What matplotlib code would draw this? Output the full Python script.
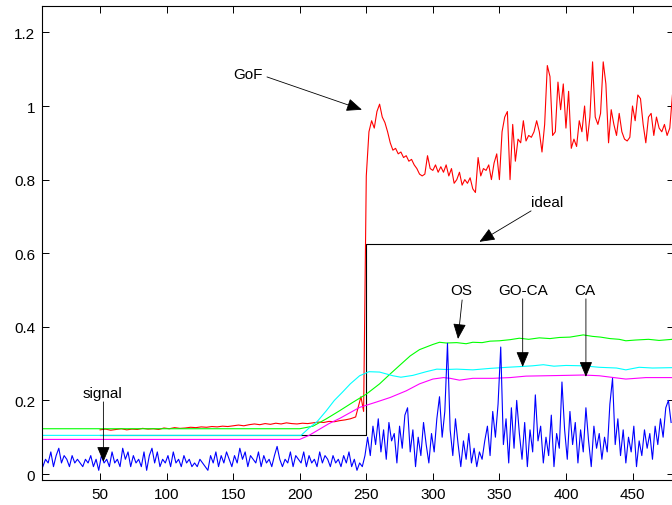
import numpy as np
import matplotlib
matplotlib.use('Agg')
import matplotlib.pyplot as plt

plt.rcParams['font.family'] = ['Liberation Sans', 'DejaVu Sans']
plt.rcParams['font.size'] = 11

# %% data

# raw detector signal, every 2nd sample (7..479)
signal = [
    0.02, 0.04, 0.03, 0.06, 0.02, 0.05, 0.07, 0.03, 0.05, 0.04,
    0.02, 0.05, 0.03, 0.04, 0.03, 0.02, 0.04, 0.03, 0.05, 0.02,
    0.04, 0.01, 0.05, 0.03, 0.04, 0.02, 0.06, 0.03, 0.04, 0.02,
    0.07, 0.04, 0.06, 0.02, 0.05, 0.03, 0.04, 0.02, 0.06, 0.01,
    0.05, 0.07, 0.03, 0.06, 0.02, 0.04, 0.03, 0.05, 0.02, 0.06,
    0.03, 0.04, 0.02, 0.05, 0.03, 0.04, 0.02, 0.03, 0.02, 0.04,
    0.03, 0.02, 0.01, 0.05, 0.03, 0.06, 0.02, 0.05, 0.03, 0.06,
    0.04, 0.02, 0.05, 0.03, 0.07, 0.04, 0.06, 0.02, 0.05, 0.04,
    0.03, 0.06, 0.02, 0.05, 0.03, 0.04, 0.02, 0.05, 0.075, 0.04,
    0.02, 0.04, 0.03, 0.06, 0.02, 0.05, 0.04, 0.03, 0.06, 0.02,
    0.05, 0.03, 0.04, 0.02, 0.06, 0.03, 0.05, 0.04, 0.02, 0.05,
    0.03, 0.04, 0.02, 0.05, 0.03, 0.06, 0.02, 0.04, 0.01, 0.03,
    0.02, 0.05,
    # target enters at 250
    0.10, 0.05, 0.13, 0.08, 0.15, 0.06, 0.12, 0.04, 0.14, 0.09,
    0.11, 0.03, 0.13, 0.07, 0.16, 0.18, 0.06, 0.12, 0.02, 0.10,
    0.05, 0.14, 0.08, 0.03, 0.11, 0.06, 0.15, 0.21, 0.10, 0.17,
    0.355, 0.12, 0.05, 0.15, 0.08, 0.02, 0.09, 0.04, 0.11, 0.03,
    0.07, 0.02, 0.06, 0.04, 0.09, 0.13, 0.05, 0.17, 0.10, 0.19,
    0.345, 0.08, 0.15, 0.03, 0.18, 0.07, 0.20, 0.11, 0.04, 0.14,
    0.02, 0.12, 0.06, 0.215, 0.09, 0.13, 0.03, 0.10, 0.05, 0.16,
    0.02, 0.11, 0.07, 0.25, 0.12, 0.04, 0.17, 0.08, 0.14, 0.03,
    0.12, 0.06, 0.18, 0.09, 0.02, 0.13, 0.07, 0.11, 0.04, 0.10,
    0.06, 0.19, 0.26, 0.08, 0.15, 0.05, 0.12, 0.03, 0.10, 0.06,
    0.13, 0.02, 0.09, 0.05, 0.12, 0.07, 0.11, 0.04, 0.13, 0.08,
    0.15, 0.10, 0.18, 0.20, 0.14,
]
signal_x = np.arange(7, 480, 2)

# goodness of fit: every 4th sample up to 246, then every 2nd
gof = [
    0.120, 0.122, 0.119, 0.121, 0.123, 0.120, 0.122, 0.121, 0.124, 0.122,
    0.123, 0.121, 0.125, 0.123, 0.126, 0.124, 0.125, 0.127, 0.126, 0.128,
    0.127, 0.129, 0.128, 0.130, 0.129, 0.131, 0.133, 0.131, 0.134, 0.136,
    0.134, 0.137, 0.135, 0.138, 0.136, 0.139, 0.137, 0.136, 0.138, 0.137,
    0.139, 0.141, 0.140, 0.143, 0.142, 0.145, 0.147, 0.150, 0.155, 0.21,
    0.17, 0.81, 0.93, 0.96, 0.94, 0.985, 1.005, 0.97, 0.955, 0.93,
    0.90, 0.88, 0.885, 0.87, 0.875, 0.86, 0.865, 0.85, 0.855, 0.84,
    0.83, 0.815, 0.81, 0.815, 0.865, 0.83, 0.825, 0.84, 0.82, 0.835,
    0.82, 0.84, 0.81, 0.83, 0.79, 0.80, 0.82, 0.785, 0.80, 0.79,
    0.805, 0.775, 0.765, 0.86, 0.81, 0.83, 0.825, 0.84, 0.80, 0.845,
    0.87, 0.80, 0.93, 0.97, 0.985, 0.80, 0.95, 0.85, 0.91, 0.90,
    0.96, 0.905, 0.92, 0.915, 0.93, 0.96, 0.93, 0.875, 0.95, 1.11,
    1.08, 0.92, 0.93, 1.065, 0.99, 1.06, 0.94, 1.04, 0.885, 0.91,
    0.89, 0.96, 0.93, 1.0, 0.905, 0.97, 1.12, 0.97, 0.95, 0.98,
    1.12, 1.06, 0.90, 0.99, 0.95, 0.92, 0.98, 0.93, 0.91, 0.905,
    0.915, 1.0, 0.96, 1.03, 1.02, 0.95, 0.90, 0.97, 0.98, 0.92,
    0.97, 0.94, 0.93, 0.95, 0.92, 0.94, 1.03,
]
gof_x = np.concatenate([np.arange(50, 247, 4), np.arange(248, 481, 2)])

# ideal detector output (step)
ideal_x = [50, 250, 480]
ideal_y = [0.107, 0.625, 0.625]

# CFAR thresholds
os_x = [7, 200, 210, 220, 230, 240, 250, 260, 268, 275, 283, 290, 295, 300,
        305, 310, 318, 325, 330, 337, 343, 350, 358, 365, 372, 380, 388, 395,
        403, 413, 420, 426, 433, 440, 445, 452, 462, 470, 480]
os_y = [0.123, 0.123, 0.130, 0.150, 0.172, 0.195, 0.217, 0.245, 0.272, 0.295,
        0.321, 0.338, 0.345, 0.352, 0.358, 0.356, 0.357, 0.354, 0.358, 0.357,
        0.361, 0.362, 0.365, 0.369, 0.366, 0.370, 0.368, 0.371, 0.372, 0.378,
        0.374, 0.372, 0.368, 0.366, 0.362, 0.364, 0.366, 0.363, 0.366]

goca_x = [7, 201, 207, 213, 220, 226, 232, 238, 245, 252, 260, 265, 270, 276,
          285, 295, 303, 310, 318, 330, 343, 356, 366, 375, 383, 391, 400, 413,
          425, 438, 445, 455, 465, 480]
goca_y = [0.105, 0.105, 0.125, 0.142, 0.172, 0.200, 0.222, 0.245, 0.267, 0.278,
          0.277, 0.272, 0.267, 0.263, 0.268, 0.278, 0.285, 0.284, 0.285, 0.283,
          0.287, 0.290, 0.292, 0.294, 0.297, 0.293, 0.295, 0.294, 0.290, 0.288,
          0.283, 0.290, 0.288, 0.289]

ca_x = [7, 200, 207, 215, 222, 230, 245, 258, 268, 280, 290, 300, 308, 313,
        320, 330, 345, 358, 370, 385, 400, 413, 425, 436, 445, 460, 480]
ca_y = [0.094, 0.094, 0.105, 0.122, 0.137, 0.151, 0.181, 0.196, 0.208, 0.226,
        0.245, 0.258, 0.262, 0.260, 0.255, 0.260, 0.260, 0.262, 0.266, 0.267,
        0.268, 0.269, 0.267, 0.262, 0.258, 0.262, 0.262]

# %% plot

fig = plt.figure(figsize=(6.72, 5.06), dpi=100)
ax = fig.add_axes([42.3 / 672, 25 / 506, 631.2 / 672, 474.3 / 506])

lw = 0.8
ax.plot(ideal_x, ideal_y, color='k', lw=lw, drawstyle='steps-post')
ax.plot(gof_x, gof, color=(1, 0, 0), lw=lw)
ax.plot(os_x, os_y, color=(0, 1, 0), lw=lw)
ax.plot(goca_x, goca_y, color=(0, 1, 1), lw=lw)
ax.plot(ca_x, ca_y, color=(1, 0, 1), lw=lw)
ax.plot(signal_x, signal, color=(0, 0, 1), lw=lw)

ax.set_xlim(6.6, 480.8)
ax.set_ylim(-0.0163, 1.2726)
ax.set_xticks(range(50, 451, 50))
ax.set_yticks([0, 0.2, 0.4, 0.6, 0.8, 1.0, 1.2])
ax.set_yticklabels(['0', '0.2', '0.4', '0.6', '0.8', '1', '1.2'])
ax.tick_params(direction='in', top=True, right=True, length=5, width=0.7,
               labelsize=11, colors='k')
ax.tick_params(axis='x', pad=5)
ax.tick_params(axis='y', pad=5)
for s in ax.spines.values():
    s.set_linewidth(0.8)

# labels with arrows
arrow = dict(arrowstyle='-|>,head_length=0.95,head_width=0.4', color='k',
             lw=0.6, mutation_scale=10, shrinkA=0, shrinkB=0)

def label(txt, pos, tail, tip):
    ax.text(pos[0], pos[1], txt, ha='center', va='center', fontsize=11)
    ax.annotate('', xy=tip, xytext=tail, arrowprops=arrow)

label('GoF', (161, 1.087), (175.4, 1.079), (246.7, 0.99))
label('ideal', (385.8, 0.740), (373.8, 0.715), (335, 0.631))
label('OS', (321.2, 0.501), (322, 0.473), (318.9, 0.367))
label('GO-CA', (367.5, 0.501), (367.5, 0.476), (367.5, 0.291))
label('CA', (414.5, 0.501), (415, 0.476), (415, 0.264))
label('signal', (52, 0.219), (52.5, 0.196), (52.5, 0.033))

fig.savefig('out.png', dpi=100)
